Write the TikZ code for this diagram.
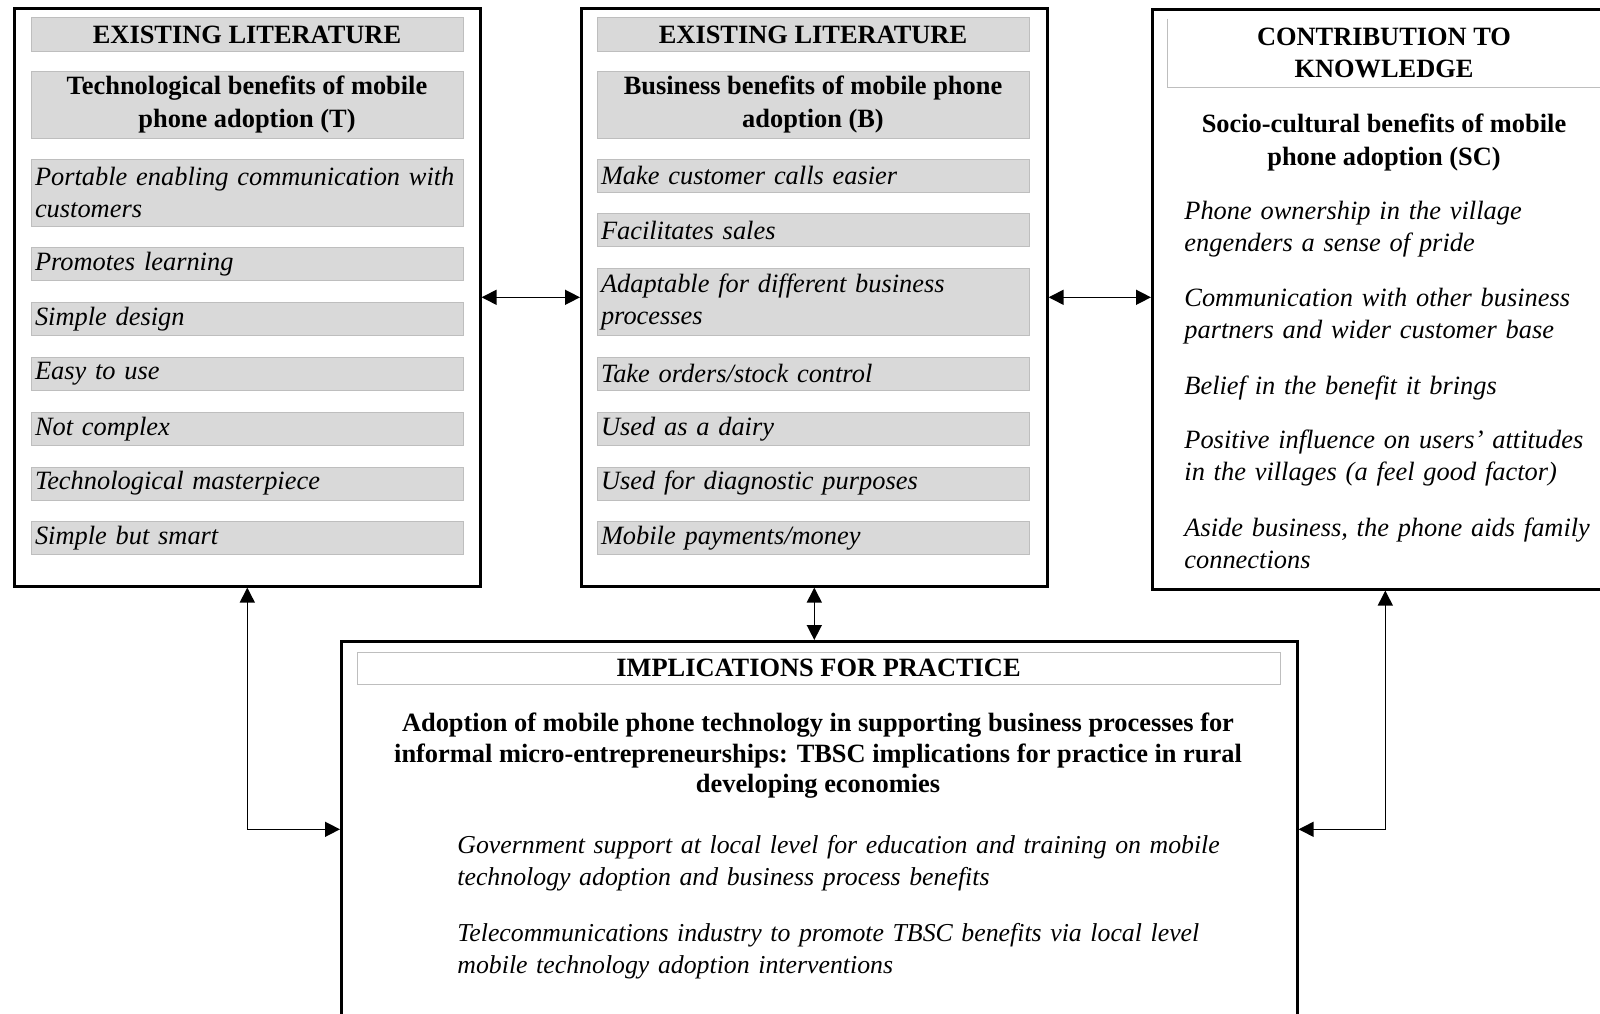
\documentclass[tikz,border=0pt]{standalone}
\usepackage{fontspec}
\setmainfont{Liberation Serif}
\usetikzlibrary{arrows.meta,positioning}
\tikzset{every node/.append style={align=center}}
\definecolor{itemgray}{RGB}{217,217,217}
\definecolor{edgegray}{RGB}{190,190,190}

\begin{document}
\begin{tikzpicture}[
    x=0.5pt, y=-0.5pt,
    node distance=10.5pt,
    panel/.style={draw, line width=1.3pt, anchor=north west, minimum width=233pt, minimum height=289pt},
    headbox/.style={draw=edgegray, fill=itemgray, minimum width=216pt, minimum height=17pt, inner sep=0pt, font=\fontsize{13.2}{16.3}\selectfont\bfseries},
    titlebox/.style={headbox, minimum height=33.5pt},
    itembox/.style={draw=edgegray, fill=itemgray, text width=212pt, inner xsep=2pt, inner ysep=0pt, minimum height=16.5pt, align=left, font=\fontsize{13.2}{16.3}\selectfont\itshape},
    itemtwo/.style={itembox, minimum height=33.5pt},
    boldtext/.style={inner sep=0pt, font=\fontsize{13.2}{16.3}\selectfont\bfseries},
    sctext/.style={anchor=base west, text width=220pt, inner sep=0pt, align=left, font=\fontsize{13.2}{16.3}\selectfont\itshape},
    arrow/.style={{Triangle[length=7.5pt,width=7.5pt]}-{Triangle[length=7.5pt,width=7.5pt]}, line width=0.75pt}
]
    \clip (0,0) rectangle (1600,1013);

    % Existing literature: technological benefits
    \node[panel] (litT) at (13,7) {};
    \node[headbox, anchor=north] (headT) at (247,17) {EXISTING LITERATURE};
    \node[titlebox, below=9.5pt of headT] (titleT) {Technological benefits of mobile\\phone adoption (T)};
    \node[itemtwo, below=10pt of titleT] (t1) {Portable enabling communication with\\customers};
    \node[itembox, below=of t1] (t2) {Promotes learning};
    \node[itembox, below=of t2] (t3) {Simple design};
    \node[itembox, below=of t3] (t4) {Easy to use};
    \node[itembox, below=of t4] (t5) {Not complex};
    \node[itembox, below=of t5] (t6) {Technological masterpiece};
    \node[itembox, below=of t6] (t7) {Simple but smart};

    % Existing literature: business benefits
    \node[panel] (litB) at (580,7) {};
    \node[headbox, anchor=north] (headB) at (813,17) {EXISTING LITERATURE};
    \node[titlebox, below=9.5pt of headB] (titleB) {Business benefits of mobile phone\\adoption (B)};
    \node[itembox, below=10pt of titleB] (b1) {Make customer calls easier};
    \node[itembox, below=of b1] (b2) {Facilitates sales};
    \node[itemtwo, below=of b2] (b3) {Adaptable for different business\\processes};
    \node[itembox, below=of b3] (b4) {Take orders/stock control};
    \node[itembox, below=of b4] (b5) {Used as a dairy};
    \node[itembox, below=of b5] (b6) {Used for diagnostic purposes};
    \node[itembox, below=of b6] (b7) {Mobile payments/money};

    % Contribution to knowledge
    \node[panel, minimum height=290pt] (kn) at (1151,8) {};
    \node[boldtext, minimum width=216pt, minimum height=34pt] (headK) at (1384,53) {CONTRIBUTION TO\\KNOWLEDGE};
    \draw[edgegray, line width=0.6pt] (headK.north west) |- (headK.south east);
    \node[boldtext] (titleK) at (1384,142.5) {Socio-cultural benefits of mobile\\phone adoption (SC)};
    \node[sctext] (sc1) at (1184,219) {Phone ownership in the village\\engenders a sense of pride};
    \node[sctext] (sc2) at (1184,306) {Communication with other business\\partners and wider customer base};
    \node[sctext] (sc3) at (1184,394) {Belief in the benefit it brings};
    \node[sctext] (sc4) at (1184,448) {Positive influence on users' attitudes\\in the villages (a feel good factor)};
    \node[sctext] (sc5) at (1184,536) {Aside business, the phone aids family\\connections};

    % Implications for practice
    \node[panel, minimum width=478pt, minimum height=188pt] (impl) at (340,640) {};
    \node[draw=edgegray, minimum width=461.5pt, minimum height=16pt, inner sep=0pt, font=\fontsize{13.2}{16.3}\selectfont\bfseries] (headI) at (818.5,668) {IMPLICATIONS FOR PRACTICE};
    \node[boldtext, font=\fontsize{13.2}{15.3}\selectfont\bfseries] (titleI) at (818,756) {Adoption of mobile phone technology in supporting business processes for\\informal micro-entrepreneurships: TBSC implications for practice in rural\\developing economies};
    \node[sctext, text width=400pt, font=\fontsize{12.9}{16.3}\selectfont\itshape] (p1) at (457,853) {Government support at local level for education and training on mobile\\technology adoption and business process benefits};
    \node[sctext, text width=400pt, font=\fontsize{12.9}{16.3}\selectfont\itshape] (p2) at (457,941) {Telecommunications industry to promote TBSC benefits via local level\\mobile technology adoption interventions};

    % Links
    \draw[arrow] (litT) -- (litB);
    \draw[arrow] (litB.east) -- (litB.east -| kn.west);
    \draw[arrow] (litB.south) -- (litB.south |- impl.north);
    \draw[arrow] (litT.south) |- (impl.west);
    \draw[arrow] (kn.south) |- (impl.east);
\end{tikzpicture}
\end{document}
